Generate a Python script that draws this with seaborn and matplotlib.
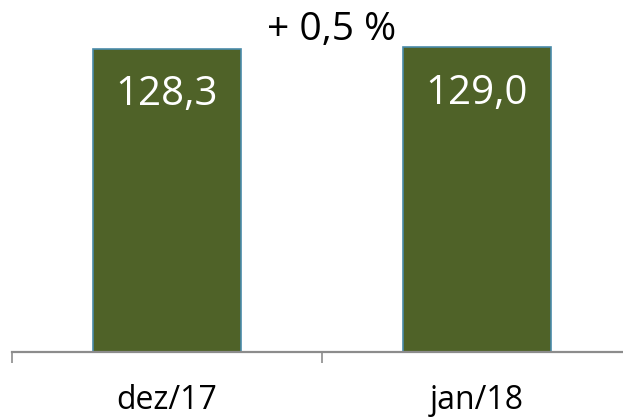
import matplotlib
matplotlib.use("Agg")
import matplotlib.pyplot as plt
import pandas as pd
import seaborn as sns

# dados
meses = ['dez/17', 'jan/18']
valores = [128.3, 129.0]
rotulos = ['128,3', '129,0']
variacao = '+ 0,5 %'

df = pd.DataFrame({'Mes': meses, 'Valor': valores})

sns.set_style("white")
plt.rcParams['font.family'] = ['Open Sans', 'DejaVu Sans']

fig = plt.figure(figsize=(6.23, 4.17), dpi=100)
ax = fig.add_axes([12 / 623, 1 - 352 / 417, 620 / 623, 330.6 / 417])

sns.barplot(x='Mes', y='Valor', data=df, color='#4F6228', width=0.48,
            edgecolor='#4A8BAA', linewidth=1.2, saturation=1, ax=ax)

for i, txt in enumerate(rotulos):
    ax.text(i, valores[i] - 19.5, txt, ha='center', va='center',
            color='white', fontsize=29)

ax.text(0.515, 0.975, variacao, transform=ax.transAxes, ha='center',
        va='center', fontsize=28, color='black')

ax.set_xlim(-0.5, 1.5)
ax.set_ylim(0, 140)
ax.set_xlabel('')
ax.set_ylabel('')
ax.set_yticks([])
for s in ['top', 'right', 'left']:
    ax.spines[s].set_visible(False)
ax.spines['bottom'].set_color('#8C8C8C')
ax.spines['bottom'].set_linewidth(1.6)

ax.set_xticks([-0.5, 0.5, 1.5], minor=True)
ax.tick_params(axis='x', which='minor', length=8, width=1.2, color='#8C8C8C',
               direction='out', bottom=True)
ax.tick_params(axis='x', which='major', length=0, pad=23, labelsize=23,
               labelcolor='black')

fig.savefig('out.png', dpi=100)
